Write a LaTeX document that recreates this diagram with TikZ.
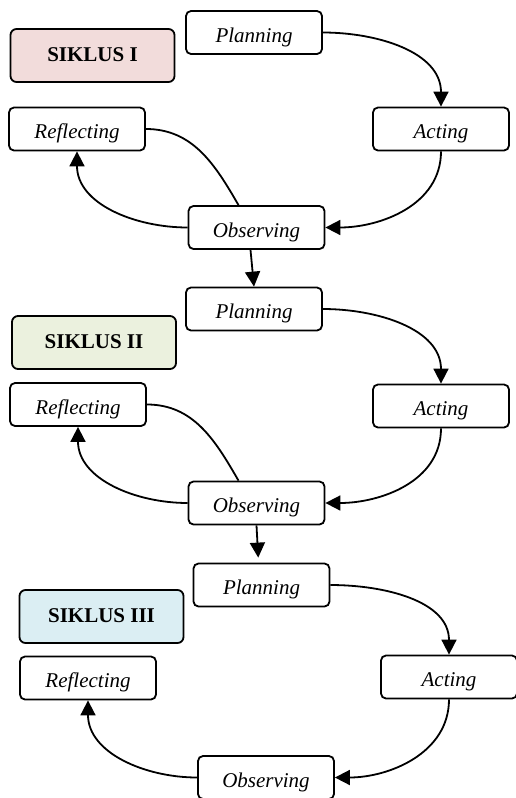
\documentclass[tikz,border=0pt]{standalone}
\usepackage{fontspec}
\setmainfont{Liberation Serif}
\usepackage{xcolor}
\usetikzlibrary{calc, positioning, arrows.meta}

\definecolor{siklusA}{HTML}{F2DCDB}
\definecolor{siklusB}{HTML}{EBF1DE}
\definecolor{siklusC}{HTML}{DBEEF3}

\begin{document}
\begin{tikzpicture}[x=1pt,y=-1pt,line width=1.8pt,
                    >={Triangle[length=15pt,width=15pt]},
                    step node/.style={rectangle,rounded corners=5pt,draw,fill=white,
                      minimum width=136pt,minimum height=43pt,inner sep=0pt,
                      text height=19pt,text depth=0pt,
                      font=\fontsize{21}{24}\selectfont\itshape},
                    cycle label/.style={rectangle,rounded corners=6pt,draw,
                      minimum width=164pt,minimum height=53pt,inner sep=0pt,
                      text height=14pt,text depth=3pt,
                      font=\fontsize{21}{24}\selectfont\bfseries}]

  \useasboundingbox (0,0) rectangle (515,798);

  % siklus I
  \node[step node] (p1) at (254,32.5) {Planning};
  \node[cycle label,fill=siklusA] (s1) at (92.5,55.5) {SIKLUS I};
  \node[step node] (r1) at (77,129) {Reflecting};
  \node[step node] (a1) at (441,129) {Acting};
  \node[step node] (o1) at (256.5,227.5) {Observing};

  % siklus II
  \node[step node] (p2) at (254,309) {Planning};
  \node[cycle label,fill=siklusB] (s2) at (94,342.5) {SIKLUS II};
  \node[step node] (r2) at (78,404.5) {Reflecting};
  \node[step node] (a2) at (441,406) {Acting};
  \node[step node] (o2) at (256.5,503) {Observing};

  % siklus III
  \node[step node] (p3) at (261.5,585) {Planning};
  \node[cycle label,fill=siklusC] (s3) at (101.5,616.5) {SIKLUS III};
  \node[step node] (r3) at (88,678) {Reflecting};
  \node[step node] (a3) at (449,677) {Acting};
  \node[step node] (o3) at (266,777.5) {Observing};

  \path[->]
    (p1) edge[out=0,in=90] (a1)
    (a1) edge[out=-90,in=0] (o1)
    (o1) edge[out=180,in=-90] (r1)
    (p2) edge[out=0,in=90] (a2)
    (a2) edge[out=-90,in=0] (o2)
    (o2) edge[out=180,in=-90] (r2)
    (p3) edge[out=0,in=90] (a3)
    (a3) edge[out=-90,in=0] (o3)
    (o3) edge[out=180,in=-90] (r3);

  \path
    (r1) edge[out=0,in=120] ($(o1.north)+(-18,0)$)
    (r2) edge[out=0,in=120] ($(o2.north)+(-18,0)$);

  \draw[->] ($(o1.south)+(-6,0)$) -- (p2.north);
  \draw[->,shorten >=5pt] (o2.south) -- ($(p3.north)+(-3,0)$);
\end{tikzpicture}
\end{document}
